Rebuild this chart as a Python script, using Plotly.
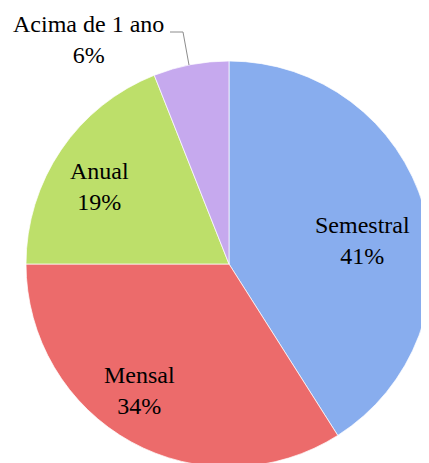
import plotly.graph_objects as go

labels = ["Semestral", "Mensal", "Anual", "Acima de 1 ano"]
values = [41, 34, 19, 6]
colors = ["#88adee", "#ec6b6b", "#bddf6a", "#c6a9ee"]

# page offset: the browser body has an 8px margin
OFF = 8
W, H = 429, 463
cx, cy, r = 229 - OFF, 264 - OFF, 203

# label centres in screen pixels (placement styling)
label_pos = [(362, 241), (139, 390), (99, 187), (88, 40)]

fig = go.Figure(go.Pie(
    labels=labels,
    values=values,
    sort=False,
    direction="clockwise",
    rotation=0,
    marker=dict(colors=colors, line=dict(color="rgba(255,255,255,0.7)", width=1)),
    textinfo="none",
    hoverinfo="label+percent",
    domain=dict(x=[(cx - r) / W, (cx + r) / W],
                y=[(H - cy - r) / H, (H - cy + r) / H]),
    showlegend=False,
))

total = sum(values)
for lab, val, (px, py) in zip(labels, values, label_pos):
    fig.add_annotation(
        x=(px - OFF) / W, y=1 - (py - OFF) / H, xref="paper", yref="paper",
        xanchor="center", yanchor="middle",
        text=f"{lab}<br>{round(100 * val / total)}%", showarrow=False,
        font=dict(family="Liberation Serif", size=24, color="#000000"),
        align="center",
    )

def P(x, y):
    return f"{(x - OFF) / W},{1 - (y - OFF) / H}"

fig.add_shape(
    type="path", xref="paper", yref="paper",
    path=f"M {P(170, 32)} L {P(183, 32)} L {P(189, 65)}",
    line=dict(color="#8c8c8c", width=1),
)

fig.update_layout(
    width=W, height=H,
    margin=dict(l=0, r=0, t=0, b=0),
    paper_bgcolor="#ffffff",
    plot_bgcolor="#ffffff",
)

fig.write_html("out.html")
